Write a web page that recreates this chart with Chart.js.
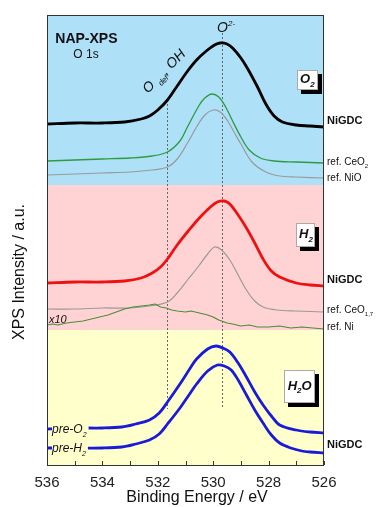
<!DOCTYPE html>
<html lang="en">
<head>
<meta charset="UTF-8">
<title>NAP-XPS O 1s</title>
<script src="https://cdn.jsdelivr.net/npm/chart.js"></script>
<style>
    body { margin: 0; background: #fff; }
    #wrap { width: 377px; height: 507px; }
</style>
</head>
<body>
<div id="wrap"><canvas id="xps" width="377" height="507"></canvas></div>
<script>
// binding energy (eV) / intensity (a.u., stacked offsets)

// O2 panel
const o2NiGDC_be = [536.0, 535.0, 534.0, 533.2, 532.6, 532.3, 532.0, 531.65, 531.3, 530.95, 530.6, 530.25, 529.95, 529.75, 529.5, 529.3, 529.0, 528.75, 528.4, 528.1, 527.8, 527.5, 527.0, 526.5, 526.0];
const o2NiGDC_i  = [341, 342, 342, 343, 346, 349, 355, 365, 379, 393, 405, 414, 420, 422, 421, 417, 407, 396, 378, 361, 349, 343, 340, 339, 338];

const o2CeO2_be = [536.0, 535.0, 534.0, 533.0, 532.2, 531.65, 531.2, 530.95, 530.5, 530.3, 530.05, 529.8, 529.55, 529.3, 529.0, 528.7, 528.3, 527.8, 527.0, 526.0];
const o2CeO2_i  = [304, 305, 306, 307, 309, 313, 324, 337, 360, 367, 371, 368, 358, 344, 328, 315, 307, 304, 303, 302];

const o2NiO_be = [536.0, 535.0, 534.0, 533.0, 532.2, 531.65, 531.3, 530.95, 530.6, 530.3, 530.0, 529.75, 529.5, 529.25, 529.0, 528.6, 528.1, 527.6, 527.0, 526.0];
const o2NiO_i  = [290, 291, 292, 293, 295, 298, 306, 321, 338, 350, 355, 353, 345, 333, 321, 303, 293, 289, 288, 287];

// H2 panel
const h2NiGDC_be = [536.0, 535.0, 534.0, 533.2, 532.6, 532.2, 531.9, 531.65, 531.3, 530.9, 530.5, 530.1, 529.85, 529.6, 529.4, 529.1, 528.8, 528.5, 528.2, 527.9, 527.6, 527.0, 526.5, 526.0];
const h2NiGDC_i  = [182, 183, 183, 184, 187, 192, 198, 206, 220, 234, 247, 258, 263, 264, 261, 250, 237, 222, 206, 194, 188, 182, 180, 179];

const h2CeO17_be = [536.0, 535.0, 534.0, 533.0, 532.3, 531.65, 531.3, 530.9, 530.55, 530.2, 529.95, 529.7, 529.4, 529.1, 528.8, 528.5, 528.2, 527.7, 527.0, 526.0];
const h2CeO17_i  = [156, 156, 157, 157, 159, 163, 172, 186, 198, 211, 218, 215, 205, 190, 175, 164, 158, 155, 154, 153];

const h2Ni_be = [536.0, 535.8, 535.6, 535.3, 535.0, 534.7, 534.4, 534.1, 533.8, 533.5, 533.2, 532.9, 532.6, 532.3, 532.1, 531.9, 531.7, 531.5, 531.3, 531.0, 530.8, 530.5, 530.2, 530.0, 529.8, 529.5, 529.3, 529.0, 528.7, 528.4, 528.0, 527.6, 527.2, 526.8, 526.4, 526.0];
const h2Ni_i  = [140, 141, 140, 142, 143, 144, 146, 148, 150, 153, 156, 158, 159, 160, 161, 158, 157, 155, 154, 153, 154, 152, 150, 148, 145, 142, 141, 139, 140, 138, 138, 139, 137, 138, 137, 136];

// H2O panel
const h2oPreO2_be = [536.0, 535.0, 534.0, 533.3, 532.8, 532.3, 531.95, 531.65, 531.2, 530.85, 530.6, 530.2, 529.9, 529.65, 529.4, 529.1, 528.8, 528.5, 528.2, 527.9, 527.6, 527.0, 526.5, 526.0];
const h2oPreO2_i  = [36, 37, 37, 38, 41, 45, 52, 63, 81, 96, 106, 116, 119, 117, 113, 102, 88, 73, 60, 49, 40, 35, 33, 32];

const h2oPreH2_be = [536.0, 535.0, 534.0, 533.3, 532.8, 532.3, 531.95, 531.65, 531.2, 530.85, 530.6, 530.2, 529.85, 529.6, 529.35, 529.1, 528.8, 528.5, 528.2, 527.9, 527.6, 527.2, 526.8, 526.5, 526.0];
const h2oPreH2_i  = [17, 17, 17, 18, 21, 25, 31, 41, 57, 71, 81, 94, 100, 99, 95, 85, 70, 55, 42, 30, 22, 17, 14, 13, 12];

// axis
const beMin = 526, beMax = 536;
const minorTicks = [536, 535, 534, 533, 532, 531, 530, 529, 528, 527, 526];
const bandEdges = [0, 135, 280, 450];          // H2O | H2 | O2
const bandColors = ['#ffffcc', '#ffd3d3', '#aee0f8'];
const peakLines = [531.65, 529.7];             // O def/OH and O2-

const FONT = "'Liberation Sans', Arial, Helvetica, sans-serif";

function pts(be, inten) {
    return be.map((x, i) => ({ x: x, y: inten[i] }));
}

function series(be, inten, color, width, tension) {
    return {
        data: pts(be, inten),
        borderColor: color,
        borderWidth: width,
        borderJoinStyle: 'round',
        pointRadius: 0,
        fill: false,
        tension: tension
    };
}

// draws text pieces with sub/superscripts, returns width
function rich(ctx, x, y, parts, size, style) {
    let cx = x;
    parts.forEach(([t, kind]) => {
        const s = kind ? Math.round(size * 0.6) : size;
        ctx.font = `${style} ${s}px ${FONT}`;
        const dy = kind === 'sub' ? size * 0.3 : (kind === 'sup' ? -size * 0.45 : 0);
        ctx.fillText(t, cx, y + dy);
        cx += ctx.measureText(t).width;
    });
    return cx - x;
}

function richWidth(ctx, parts, size, style) {
    let w = 0;
    parts.forEach(([t, kind]) => {
        const s = kind ? Math.round(size * 0.6) : size;
        ctx.font = `${style} ${s}px ${FONT}`;
        w += ctx.measureText(t).width;
    });
    return w;
}

const bandsPlugin = {
    id: 'bands',
    beforeDatasetsDraw(chart) {
        const { ctx, chartArea: a, scales: { x, y } } = chart;
        ctx.save();
        for (let i = 0; i < bandColors.length; i++) {
            const top = y.getPixelForValue(bandEdges[i + 1]);
            const bot = y.getPixelForValue(bandEdges[i]);
            ctx.fillStyle = bandColors[i];
            ctx.fillRect(a.left, top, a.right - a.left, bot - top);
        }
        // dotted guide lines
        ctx.strokeStyle = '#666';
        ctx.lineWidth = 1;
        ctx.setLineDash([2, 2]);
        const tops = [365, 432];
        peakLines.forEach((be, i) => {
            const px = Math.round(x.getPixelForValue(be)) + 0.5;
            ctx.beginPath();
            ctx.moveTo(px, y.getPixelForValue(tops[i]));
            ctx.lineTo(px, y.getPixelForValue(56));
            ctx.stroke();
        });
        ctx.restore();
    }
};

const decorPlugin = {
    id: 'decor',
    afterDatasetsDraw(chart) {
        const { ctx, chartArea: a, scales: { x, y } } = chart;
        ctx.save();

        // frame
        ctx.strokeStyle = '#333';
        ctx.lineWidth = 1;
        ctx.setLineDash([]);
        ctx.strokeRect(a.left + 0.5, a.top + 0.5, a.right - a.left - 1, a.bottom - a.top);

        // inward ticks
        ctx.beginPath();
        minorTicks.forEach(v => {
            const px = Math.round(x.getPixelForValue(v)) + 0.5;
            ctx.moveTo(px, a.bottom);
            ctx.lineTo(px, a.bottom - 4);
        });
        ctx.stroke();

        ctx.fillStyle = '#111';
        ctx.textBaseline = 'alphabetic';
        ctx.textAlign = 'left';

        // header
        ctx.font = `bold 14px ${FONT}`;
        ctx.fillText('NAP-XPS', x.getPixelForValue(535.7), y.getPixelForValue(427.5) + 5);
        ctx.font = `12px ${FONT}`;
        ctx.fillText('O 1s', x.getPixelForValue(535.05), y.getPixelForValue(411) + 4);

        // O2- label
        rich(ctx, x.getPixelForValue(529.86), y.getPixelForValue(433), [['O'], ['2-', 'sup']], 14, 'italic');

        // O def, OH (rotated)
        ctx.save();
        ctx.translate(x.getPixelForValue(532.35), y.getPixelForValue(371));
        ctx.rotate(-0.8);
        rich(ctx, 0, 0, [['O '], ['def', 'sub'], [', OH']], 14, 'italic');
        ctx.restore();

        // right-hand labels
        const rx = a.right + 3;
        const rightLabels = [
            [345, [['NiGDC']], 'bold', 11],
            [304, [['ref. CeO'], ['2', 'sub']], 'normal', 10],
            [288, [['ref. NiO']], 'normal', 10],
            [186, [['NiGDC']], 'bold', 11],
            [156, [['ref. CeO'], ['1,7', 'sub']], 'normal', 10],
            [139, [['ref. Ni']], 'normal', 10],
            [21, [['NiGDC']], 'bold', 11]
        ];
        rightLabels.forEach(([v, parts, style, size]) => {
            rich(ctx, rx, y.getPixelForValue(v) + 4, parts, size, style);
        });

        // left labels
        ctx.font = `italic 11px ${FONT}`;
        ctx.fillText('x10', a.left + 2, y.getPixelForValue(146) + 4);
        [[36, [['pre-O'], ['2', 'sub']]], [17, [['pre-H'], ['2', 'sub']]]].forEach(([v, parts]) => {
            const py = y.getPixelForValue(v);
            const w = richWidth(ctx, parts, 12, 'italic');
            ctx.fillStyle = bandColors[0];
            ctx.fillRect(a.left + 5, py - 6, w + 2, 13);
            ctx.fillStyle = '#111';
            rich(ctx, a.left + 5, py + 4, parts, 12, 'italic');
        });

        // atmosphere tags
        const tags = [
            [526.6, 385, 21, 20, [['O'], ['2', 'sub']]],
            [526.65, 230, 19, 24, [['H'], ['2', 'sub']]],
            [526.88, 78.5, 31, 33, [['H'], ['2', 'sub'], ['O']]]
        ];
        tags.forEach(([be, v, w, h, parts]) => {
            const cx = x.getPixelForValue(be), cy = y.getPixelForValue(v);
            const l = Math.round(cx - w / 2), t = Math.round(cy - h / 2);
            ctx.fillStyle = '#000';
            ctx.fillRect(l + 4, t + 4, w, h);
            ctx.fillStyle = '#fff';
            ctx.fillRect(l, t, w, h);
            ctx.strokeStyle = '#aaa';
            ctx.strokeRect(l + 0.5, t + 0.5, w - 1, h - 1);
            ctx.fillStyle = '#111';
            const tw = richWidth(ctx, parts, 13, 'bold italic');
            rich(ctx, cx - tw / 2, cy + 3, parts, 13, 'bold italic');
        });

        // axis titles
        ctx.font = `16px ${FONT}`;
        ctx.textAlign = 'center';
        ctx.textBaseline = 'middle';
        ctx.fillText('Binding Energy / eV', 197, 498);
        ctx.save();
        ctx.translate(20, 272);
        ctx.rotate(-Math.PI / 2);
        ctx.fillText('XPS Intensity / a.u.', 0, 0);
        ctx.restore();

        ctx.restore();
    }
};

new Chart(document.getElementById('xps'), {
    type: 'line',
    data: {
        datasets: [
            series(o2NiO_be, o2NiO_i, '#9a9a9a', 1.2, 0.35),
            series(o2CeO2_be, o2CeO2_i, '#2f9a3f', 1.3, 0.35),
            series(o2NiGDC_be, o2NiGDC_i, '#000000', 2.8, 0.35),
            series(h2Ni_be, h2Ni_i, '#4c8c3c', 1.2, 0),
            series(h2CeO17_be, h2CeO17_i, '#9a9a9a', 1.2, 0.35),
            series(h2NiGDC_be, h2NiGDC_i, '#ee1111', 2.8, 0.35),
            series(h2oPreH2_be, h2oPreH2_i, '#1a1ad8', 2.8, 0.35),
            series(h2oPreO2_be, h2oPreO2_i, '#1a1ad8', 2.8, 0.35)
        ]
    },
    options: {
        responsive: false,
        devicePixelRatio: 1,
        animation: false,
        layout: { padding: { left: 47, right: 53, top: 15, bottom: 0 } },
        plugins: { legend: { display: false }, tooltip: { enabled: false } },
        scales: {
            x: {
                type: 'linear',
                reverse: true,
                min: beMin,
                max: beMax,
                grid: { display: false, drawTicks: false },
                border: { display: false },
                ticks: {
                    stepSize: 2,
                    padding: 9,
                    color: '#222',
                    font: { family: FONT, size: 15 },
                    callback: v => String(v)
                },
                afterFit: s => { s.height = 42; }
            },
            y: { display: false, min: 0, max: 450 }
        }
    },
    plugins: [bandsPlugin, decorPlugin]
});
</script>
</body>
</html>
